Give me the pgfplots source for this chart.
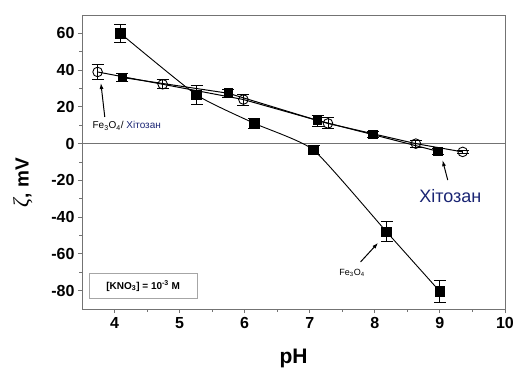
\documentclass[border=0pt]{standalone}
\usepackage{fontspec}
\setmainfont{Liberation Sans}
\newfontfamily\zetafont{Liberation Serif}
\usepackage{pgfplots}
\pgfplotsset{compat=1.18}
\usetikzlibrary{arrows.meta,calc}
\definecolor{navy}{rgb}{0.10,0.14,0.45}
\definecolor{axgray}{rgb}{0.45,0.45,0.45}

\begin{document}
\begin{tikzpicture}
\begin{axis}[
  scale only axis, width=423pt, height=294pt,
  xmin=3.5, xmax=10, ymin=-90, ymax=70,
  xtick={4,5,6,7,8,9,10}, ytick={-80,-60,-40,-20,0,20,40,60},
  xticklabels={\textbf{4},\textbf{5},\textbf{6},\textbf{7},\textbf{8},\textbf{9},\textbf{10}},
  yticklabels={\textbf{-80},\textbf{-60},\textbf{-40},\textbf{-20},\textbf{0},\textbf{20},\textbf{40},\textbf{60}},
  minor x tick num=1, minor y tick num=1,
  tick align=outside, tick pos=left,
  major tick length=4pt, minor tick length=2.5pt,
  axis line style={axgray, line width=0.9pt},
  every tick/.style={axgray, line width=0.9pt},
  tick label style={font=\bfseries\fontsize{16}{16}\selectfont},
  xticklabel style={yshift=-1pt},
  xlabel={pH},
  xlabel style={font=\bfseries\fontsize{21}{21}\selectfont, at={(axis description cs:0.5,-0.167)}, anchor=center},
  ylabel={{\zetafont\itshape\fontsize{22}{22}\selectfont ζ}\textbf{, mV}},
  ylabel style={font=\fontsize{19}{19}\selectfont, at={(axis description cs:-0.14,0.43)}, anchor=center, rotate=0},
  clip=false,
]
\coordinate (SW) at (rel axis cs:0,0);
\draw[axgray, line width=0.9pt] (axis cs:3.5,0) -- (axis cs:10,0);

% Fe3O4
\addplot[black, line width=0.9pt, smooth, tension=0.3,
  mark=square*, mark size=4.8pt, mark options={solid, fill=black},
  error bars/.cd, y dir=both, y explicit,
  error bar style={line width=0.9pt, black},
  error mark options={rotate=90, mark size=6pt, line width=0.9pt, black}]
  table[x=x, y=y, y error=e] {
x y e
4.09 60 5
5.26 26.5 5
6.15 11 2.5
7.06 -3.5 2.5
8.18 -48 5.5
9.00 -80.5 6
};

% Chitosan (filled)
\addplot[black, line width=1pt,
  mark=square*, mark size=4.3pt, mark options={solid, fill=black},
  error bars/.cd, y dir=both, y explicit,
  error bar style={line width=0.9pt, black},
  error mark options={rotate=90, mark size=6pt, line width=0.9pt, black}]
  table[x=x, y=y, y error=e] {
x y e
4.12 36 2
5.75 27.4 2
7.12 12.6 3
7.97 4.9 1.5
8.97 -4.2 1.5
};

% Fe3O4 / Chitosan (open)
\addplot[black, line width=1pt,
  mark=o, mark size=4.8pt, mark options={solid, fill=white, line width=0.9pt},
  error bars/.cd, y dir=both, y explicit,
  error bar style={line width=0.9pt, black},
  error mark options={rotate=90, mark size=6pt, line width=0.9pt, black}]
  table[x=x, y=y, y error=e] {
x y e
3.74 39 4
4.74 32.3 2.5
5.98 24 3
7.28 11 3
8.63 0 2
9.35 -4.5 1
};

% annotations
\draw[-{Latex[length=6pt,width=4pt]}, line width=1pt] (axis cs:3.85,14.5) -- (axis cs:3.79,33);
\node[anchor=west, inner sep=0pt, font=\fontsize{10}{10}\selectfont] at (axis cs:3.66,9.6)
  {Fe\textsubscript{3}O\textsubscript{4}/ \textcolor{navy}{Хітозан}};

\draw[-{Latex[length=6pt,width=4pt]}, line width=1pt] (axis cs:9.12,-19.8) -- (axis cs:9.04,-9);
\node[inner sep=0pt, font=\fontsize{18}{18}\selectfont, text=navy] at (axis cs:9.16,-28.5) {Хітозан};

\draw[-{Latex[length=6pt,width=4pt]}, line width=1pt] (axis cs:7.78,-64.4) -- (axis cs:8.05,-54);
\node[inner sep=0pt, font=\fontsize{9}{9}\selectfont] at (axis cs:7.65,-70.2)
  {Fe\textsubscript{3}O\textsubscript{4}};

\node[draw=gray!70, line width=0.8pt, minimum width=108pt, minimum height=25pt, inner sep=2pt,
  font=\bfseries\fontsize{10}{10}\selectfont] at (axis cs:4.44,-77.5)
  {[KNO\textsubscript{3}] = 10\textsuperscript{-3} M};
\end{axis}
\pgfresetboundingbox
\path[use as bounding box] ($(SW)+(-82pt,-63pt)$) rectangle ++(516pt,372pt);
\end{tikzpicture}
\end{document}
